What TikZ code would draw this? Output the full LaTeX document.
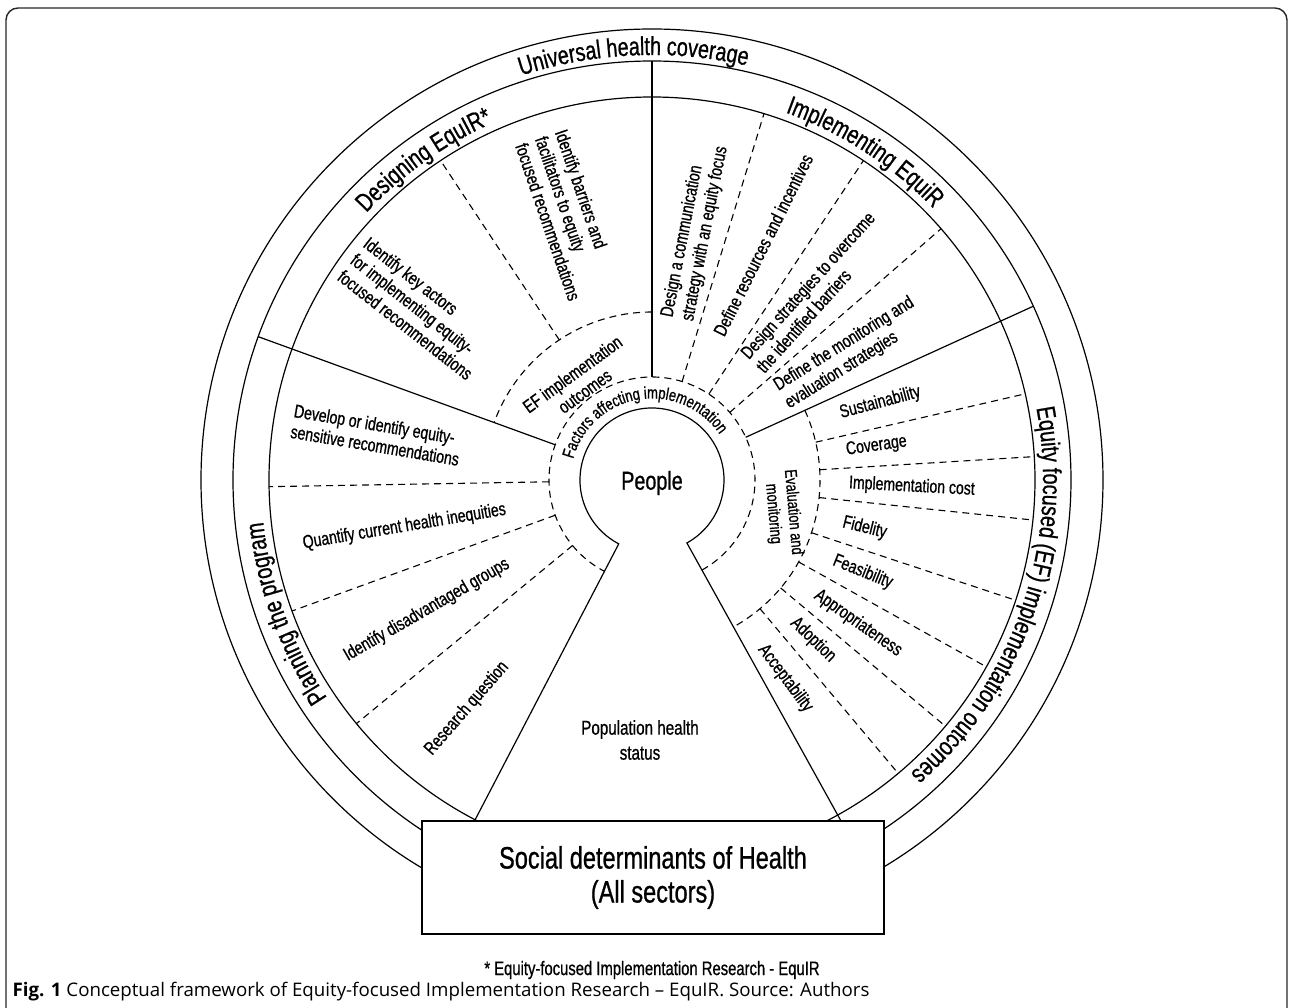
\documentclass[tikz,border=0pt]{standalone}
\usepackage{fontspec}
\setmainfont{Liberation Sans}[FakeStretch=0.76,FakeBold=0.8]
\newfontfamily\capfont{Open Sans}
\usetikzlibrary{decorations.text}
\newcommand{\ringfont}{\fontsize{26}{30}\selectfont}
\newcommand{\factfont}{\fontsize{17}{20}\selectfont}
\begin{document}
\begin{tikzpicture}[x=1pt,y=1pt,line width=1.2pt,
  dsh/.style={dash pattern=on 7pt off 5pt,line width=1.1pt},
  sect/.style={font=\fontsize{18.5}{21}\selectfont,align=left,inner sep=0pt},
  sectc/.style={sect,align=center},
  ringtext/.style={decorate,decoration={text along path,text align=center,text={|\ringfont|#1}}}]
\useasboundingbox (-652,-528) rectangle (641,480);
% frame
\draw[line width=1.4pt,black!85,rounded corners=12pt] (-646,-540) -- (-646,472) -- (635,472) -- (635,-540);
% circles
\draw (0,0) circle[radius=451];
\draw (0,0) circle[radius=419];
\draw (0,0) circle[radius=383];
% solid dividers
\foreach \a/\n in {90/top,160/left,24.5/right}{
  \coordinate (dv\n a) at (\a:103);
  \coordinate (dv\n b) at (\a:419);
  \draw (dv\n a) -- (dv\n b);
}
% dashed inner circles
\draw[dsh] (-61:103) arc[start angle=-61,end angle=242.5,radius=103];
\draw[dsh] (90:168) arc[start angle=90,end angle=160,radius=168];
\draw[dsh] (24.5:168) arc[start angle=24.5,end angle=-61,radius=168];
% radial dashed lines
\foreach \a [count=\i] in {181,200,219.5,73,56.5,41}{
  \coordinate (ra\i) at (\a:103);
  \coordinate (rb\i) at (\a:383);
  \draw[dsh] (ra\i) -- (rb\i);
}
\foreach \a [count=\i] in {123.5,13,3.5,-6,-18.3,-29.2,-40,-50}{
  \coordinate (sa\i) at (\a:168);
  \coordinate (sb\i) at (\a:383);
  \draw[dsh] (sa\i) -- (sb\i);
}
% keyhole
\coordinate (khR) at (-61:389.9);
\coordinate (khL) at (242.5:384.4);
\draw (khR) -- (-61:72) arc[start angle=-61,end angle=242.5,radius=72] -- (khL);
% ring texts
\path[ringtext={Universal health coverage}] (142.5:425) arc[start angle=142.5,end angle=42.5,radius=425];
\path[ringtext={Designing EquIR*}] (165.5:391) arc[start angle=165.5,end angle=85.5,radius=391];
\path[ringtext={Implementing EquiR}] (97:391) arc[start angle=97,end angle=17,radius=391];
\path[ringtext={Planning the program}] (245:391) arc[start angle=245,end angle=155,radius=391];
\path[ringtext={Equity focused (EF) implementation outcomes}] (41:391) arc[start angle=41,end angle=-79,radius=391];
\path[decorate,decoration={text along path,text align=center,text={|\factfont|Factors affecting implementation}}] (189.5:81.5) arc[start angle=189.5,end angle=9.5,radius=81.5];
% designing sector
\node[sect,rotate=-71] (t1) at (107.6:278) {Identify barriers and\\facilitators to equity\\focused recommendations};
\node[sect,rotate=-38] (t2) at (143.7:290) {Identify key actors\\for implementing equity-\\focused recommendations};
\node[sectc,rotate=36] (t3) at (127:122) {EF implementation\\outcomes};
% planning sector
\node[sect,rotate=-9.5] (t4) at (170.7:279) {Develop or identify equity-\\sensitive recommendations};
\node[sect,rotate=9.5] (t5) at (190.7:252) {Quantify current health inequities};
\node[sect,rotate=30] (t6) at (210:260) {Identify disadvantaged groups};
\node[sect,rotate=49] (t7) at (231:294) {Research question};
% implementing sector
\node[sect,rotate=79] (t8) at (80.2:252) {Design a communication\\strategy with an equity focus};
\node[sect,rotate=63.5] (t9) at (64.7:260) {Define resources and incentives};
\node[sect,rotate=48] (t10) at (49:249) {Design strategies to overcome\\the identified barriers};
\node[sect,rotate=32] (t11) at (32.7:235) {Define the monitoring and\\evaluation strategies};
% outcomes sector
\node[sect,rotate=15] (o1) at (18.7:241) {Sustainability};
\node[sect,rotate=8] (o2) at (8.6:227) {Coverage};
\node[sect,rotate=-3] (o3) at (-1.5:260) {Implementation cost};
\node[sect,rotate=-14] (o4) at (-12.7:218) {Fidelity};
\node[sect,rotate=-22] (o5) at (-23.6:230) {Feasibility};
\node[sect,rotate=-35] (o6) at (-34.8:251) {Appropriateness};
\node[sect,rotate=-44] (o7) at (-44.8:227) {Adoption};
\node[sect,rotate=-53] (o8) at (-56.1:239) {Acceptability};
\node[sectc,rotate=-85,font=\fontsize{17}{20}\selectfont] (em) at (131,-33) {Evaluation and\\monitoring};
% centre
\node[inner sep=0,font=\fontsize{26}{30}\selectfont] (people) at (0,-3) {People};
\node[inner sep=0,align=center,font=\fontsize{20}{25}\selectfont] (pop) at (-12,-260) {Population health\\status};
% box
\node[draw,line width=2.2pt,fill=white,minimum width=462pt,minimum height=113pt,inner sep=0pt,align=center,font=\fontsize{31}{34}\selectfont] (sdh) at (1,-397.5) {Social determinants of Health\\(All sectors)};
% footnote and caption
\node[inner sep=0,font=\fontsize{19.5}{22}\selectfont] (foot) at (0,-490) {* Equity-focused Implementation Research - EquIR};
\node[anchor=base west,inner sep=0,font=\capfont\fontsize{18.7}{20}\selectfont] (cap) at (-640,-516) {\textbf{Fig. 1} Conceptual framework of Equity-focused Implementation Research – EquIR. Source: Authors};
\end{tikzpicture}
\end{document}
